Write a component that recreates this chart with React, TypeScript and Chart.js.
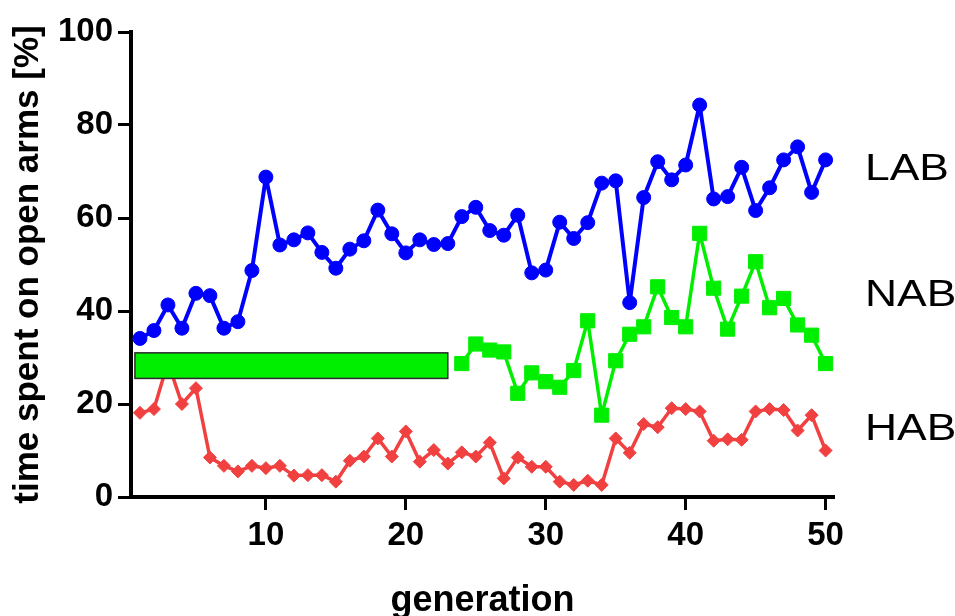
import React, { useEffect, useRef } from 'react';
import { Chart, registerables } from 'chart.js';

Chart.register(...registerables);

const generations = [
  1, 2, 3, 4, 5, 6, 7, 8, 9, 10, 11, 12, 13, 14, 15, 16, 17, 18, 19, 20, 21, 22, 23, 24, 25,
  26, 27, 28, 29, 30, 31, 32, 33, 34, 35, 36, 37, 38, 39, 40, 41, 42, 43, 44, 45, 46, 47, 48, 49, 50,
];
const labValues = [
  34.1, 35.8, 41.3, 36.3, 43.8, 43.3, 36.3, 37.7, 48.7, 68.8,
  54.2, 55.3, 56.8, 52.6, 49.2, 53.3, 55.1, 61.7, 56.6, 52.5,
  55.3, 54.3, 54.5, 60.3, 62.3, 57.3, 56.3, 60.6, 48.2, 48.8,
  59.1, 55.6, 59.0, 67.5, 68.0, 41.8, 64.4, 72.1, 68.2, 71.4,
  84.3, 64.1, 64.6, 70.9, 61.6, 66.5, 72.5, 75.3, 65.5, 72.5,
];
const nabGenerations = [
  24, 25, 26, 27, 28, 29, 30, 31, 32, 33, 34, 35, 36, 37, 38, 39, 40, 41, 42, 43, 44, 45, 46, 47, 48, 49, 50,
];
const nabValues = [
  28.7, 32.9, 31.6, 31.2, 22.3, 26.7, 24.8, 23.6, 27.2, 37.9,
  17.6, 29.3, 35.0, 36.6, 45.2, 38.6, 36.6, 56.7, 44.9, 36.1,
  43.2, 50.6, 40.7, 42.7, 37.0, 34.8, 28.7,
];
const habValues = [
  18.1, 18.9, 29.0, 20.0, 23.4, 8.5, 6.7, 5.5, 6.7, 6.2,
  6.7, 4.6, 4.7, 4.7, 3.3, 7.8, 8.7, 12.6, 8.7, 14.1,
  7.6, 10.1, 7.2, 9.6, 8.7, 11.7, 4.0, 8.5, 6.5, 6.5,
  3.3, 2.6, 3.5, 2.6, 12.6, 9.5, 15.7, 15.0, 19.1, 18.9,
  18.4, 12.1, 12.4, 12.3, 18.4, 18.9, 18.7, 14.3, 17.6, 10.0,
];
// NAB early generations shown as one block (generation span, value span)
const nabBlockGenerations = [0.64, 23.0];
const nabBlockValues = [25.5, 31.0];

const xTickValues = [10, 20, 30, 40, 50];
const yTickValues = [0, 20, 40, 60, 80, 100];
const seriesNames = ['LAB', 'NAB', 'HAB'];
const seriesNameLevels = [70.3, 43.2, 14.5];

const FONT = '"Liberation Sans", Arial, Helvetica, sans-serif';

export default function App() {
  const ref = useRef<HTMLCanvasElement>(null);

  useEffect(() => {
    const canvas = ref.current;
    if (!canvas) return;

    const overlay = {
      id: 'overlay',
      afterDatasetsDraw(chart: any) {
        const { ctx, scales, chartArea } = chart;
        const xs = scales.x;
        const ys = scales.y;
        const x0 = xs.getPixelForValue(nabBlockGenerations[0]);
        const x1 = xs.getPixelForValue(nabBlockGenerations[1]);
        const y0 = ys.getPixelForValue(nabBlockValues[1]);
        const y1 = ys.getPixelForValue(nabBlockValues[0]);
        ctx.save();
        ctx.fillStyle = '#00ee00';
        ctx.fillRect(x0, y0, x1 - x0, y1 - y0);
        ctx.strokeStyle = '#2a2a2a';
        ctx.lineWidth = 1.5;
        ctx.strokeRect(x0, y0, x1 - x0, y1 - y0);

        ctx.fillStyle = '#000';
        ctx.font = `37px ${FONT}`;
        ctx.textAlign = 'left';
        ctx.textBaseline = 'middle';
        seriesNames.forEach((name, i) => {
          const py = ys.getPixelForValue(seriesNameLevels[i]);
          ctx.save();
          ctx.translate(chartArea.right + 31, py);
          ctx.scale(1.2, 1);
          ctx.fillText(name, 0, 0);
          ctx.restore();
        });
        ctx.restore();
      },
    };

    const chart = new Chart(canvas, {
      type: 'line',
      data: {
        datasets: [
          {
            label: 'LAB',
            data: generations.map((g, i) => ({ x: g, y: labValues[i] })),
            borderColor: '#0000ff',
            backgroundColor: '#0000ff',
            borderWidth: 4,
            borderJoinStyle: 'round',
            pointStyle: 'circle',
            pointRadius: 7,
            pointBorderWidth: 1,
            pointBackgroundColor: '#0000ff',
            pointBorderColor: '#0000ff',
            tension: 0,
          },
          {
            label: 'NAB',
            data: nabGenerations.map((g, i) => ({ x: g, y: nabValues[i] })),
            borderColor: '#00ee00',
            backgroundColor: '#00ee00',
            borderWidth: 3.5,
            borderJoinStyle: 'round',
            pointStyle: 'rect',
            pointRadius: 10,
            pointBorderWidth: 1,
            pointBackgroundColor: '#00ee00',
            pointBorderColor: '#00ee00',
            tension: 0,
          },
          {
            label: 'HAB',
            data: generations.map((g, i) => ({ x: g, y: habValues[i] })),
            borderColor: '#f04040',
            backgroundColor: '#f04040',
            borderWidth: 3.5,
            borderJoinStyle: 'round',
            pointStyle: 'rectRot',
            pointRadius: 6.5,
            pointBorderWidth: 1,
            pointBackgroundColor: '#f04040',
            pointBorderColor: '#f04040',
            tension: 0,
          },
        ],
      },
      options: {
        animation: false,
        responsive: false,
        maintainAspectRatio: false,
        devicePixelRatio: 1,
        layout: { padding: { top: 32, right: 121, bottom: 0, left: 0 } },
        plugins: {
          legend: { display: false },
          tooltip: { enabled: false },
        },
        scales: {
          x: {
            type: 'linear',
            min: 0.36,
            max: 50.6,
            afterFit: (s: any) => {
              s.height = 119;
            },
            afterBuildTicks: (s: any) => {
              s.ticks = xTickValues.map((v) => ({ value: v }));
            },
            border: { display: true, color: '#000', width: 4 },
            grid: {
              drawOnChartArea: false,
              drawTicks: true,
              tickLength: 13,
              tickWidth: 3,
              tickColor: '#000',
            },
            ticks: {
              color: '#000',
              padding: 6,
              font: { family: FONT, size: 33, weight: 'bold', lineHeight: 1.2 },
            },
            title: {
              display: true,
              text: 'generation',
              color: '#000',
              padding: { top: 0, bottom: 0 },
              font: { family: FONT, size: 36, weight: 'bold', lineHeight: 0.85 },
            },
          },
          y: {
            type: 'linear',
            min: 0,
            max: 100,
            afterFit: (s: any) => {
              s.width = 131;
            },
            afterBuildTicks: (s: any) => {
              s.ticks = yTickValues.map((v) => ({ value: v }));
            },
            border: { display: true, color: '#000', width: 4 },
            grid: {
              drawOnChartArea: false,
              drawTicks: true,
              tickLength: 13,
              tickWidth: 3,
              tickColor: '#000',
            },
            ticks: {
              color: '#000',
              padding: 5,
              font: { family: FONT, size: 33, weight: 'bold', lineHeight: 1.2 },
            },
            title: {
              display: true,
              text: 'time spent on open arms [%]',
              color: '#000',
              padding: { top: 7, bottom: 0 },
              font: { family: FONT, size: 35, weight: 'bold', lineHeight: 1.2 },
            },
          },
        },
      },
      plugins: [overlay],
    } as any);

    return () => chart.destroy();
  }, []);

  return (
    <div style={{ position: 'fixed', left: 0, top: 0, width: 955, height: 616, background: '#fff' }}>
      <canvas ref={ref} width={955} height={616} style={{ display: 'block', width: 955, height: 616 }} />
    </div>
  );
}
